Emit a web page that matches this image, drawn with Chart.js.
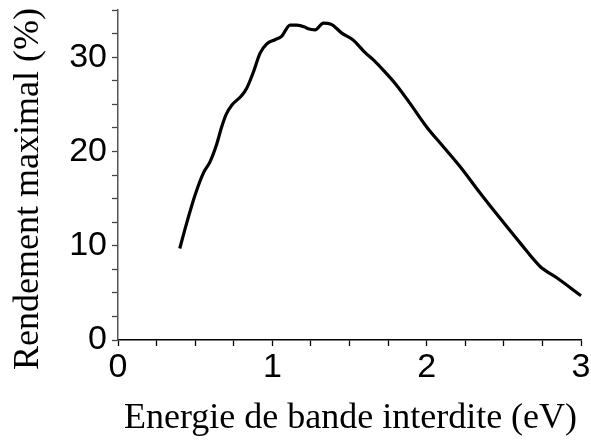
<!DOCTYPE html>
<html><head><meta charset="utf-8">
<script src="https://cdn.jsdelivr.net/npm/chart.js@4.4.1/dist/chart.umd.min.js"></script>
<style>html,body{margin:0;padding:0;background:#fff}#w{width:591px;height:441px}</style>
</head><body><div id="w"><canvas id="c" width="591" height="441"></canvas></div>
<script>
// Band gap energy (eV)
const energy = [0.40,0.445,0.50,0.553,0.596,0.64,0.67,0.70,0.737,0.80,0.834,0.877,0.92,0.964,1.017,1.06,1.115,1.158,1.21,1.233,1.277,1.331,1.38,1.45,1.525,1.60,1.655,1.72,1.806,1.892,2.0,2.108,2.216,2.346,2.476,2.605,2.735,2.843,3.0];
// Maximum efficiency (%)
const efficiency = [9.7,12.4,15.4,17.7,18.9,20.8,22.5,23.9,24.9,25.9,26.7,28.4,30.4,31.4,31.85,32.2,33.4,33.4,33.2,33.0,32.9,33.6,33.5,32.55,31.8,30.5,29.7,28.6,27.0,25.1,22.6,20.5,18.4,15.6,12.9,10.3,7.8,6.6,4.7];
const xTickLabels = [0,1,2,3];
const yTickLabels = [0,10,20,30];
const xTitle = 'Energie de bande interdite (eV)';
const yTitle = 'Rendement maximal (%)';

const points = energy.map((x,i)=>({x, y: efficiency[i]}));

const axisTitles = {
  id: 'axisTitles',
  afterDraw(chart){
    const {ctx, chartArea: a} = chart;
    ctx.save();
    ctx.fillStyle = '#000';
    ctx.font = '36px "Liberation Serif", "Times New Roman", serif';
    ctx.textAlign = 'center';
    ctx.textBaseline = 'alphabetic';
    ctx.fillText(xTitle, (a.left + a.right)/2 + 1, a.bottom + 88);
    ctx.translate(a.left - 80, (a.top + a.bottom)/2 + 14);
    ctx.rotate(-Math.PI/2);
    ctx.fillText(yTitle, 0, 0);
    ctx.restore();
  }
};

new Chart(document.getElementById('c'), {
  type: 'line',
  data: { datasets: [{
    data: points,
    borderColor: '#000',
    borderWidth: 3.2,
    pointRadius: 0,
    tension: 0.3,
    cubicInterpolationMode: 'monotone',
    fill: false,
    clip: 6
  }]},
  options: {
    responsive: false,
    animation: false,
    devicePixelRatio: 1,
    layout: { padding: { top: 10, right: 10, left: 0, bottom: 0 } },
    plugins: { legend: { display: false }, tooltip: { enabled: false } },
    scales: {
      x: {
        type: 'linear', min: 0, max: 3,
        afterFit(s){ s.height = 101; s.paddingLeft = 0; s.paddingRight = 0; },
        border: { display: true, color: '#000', width: 1.5 },
        grid: { drawOnChartArea: false, drawTicks: true, tickLength: 6, tickColor: '#000', tickWidth: 1.3 },
        ticks: {
          stepSize: 0.25, autoSkip: false, maxRotation: 0, padding: 1,
          color: '#000',
          font: { family: '"Liberation Sans", Arial, sans-serif', size: 34 },
          callback: v => xTickLabels.includes(v) ? String(v) : ''
        }
      },
      y: {
        type: 'linear', min: 0, max: 35,
        afterFit(s){ s.width = 118; s.paddingTop = 0; s.paddingBottom = 0; },
        border: { display: true, color: '#555', width: 1.5 },
        grid: { drawOnChartArea: false, drawTicks: true, tickLength: 6, tickColor: '#444', tickWidth: 1.3 },
        ticks: {
          stepSize: 2.5, autoSkip: false, padding: 5,
          color: '#000',
          font: { family: '"Liberation Sans", Arial, sans-serif', size: 34 },
          callback: v => yTickLabels.includes(v) ? String(v) : ''
        }
      }
    }
  },
  plugins: [axisTitles]
});
</script>
</body></html>
